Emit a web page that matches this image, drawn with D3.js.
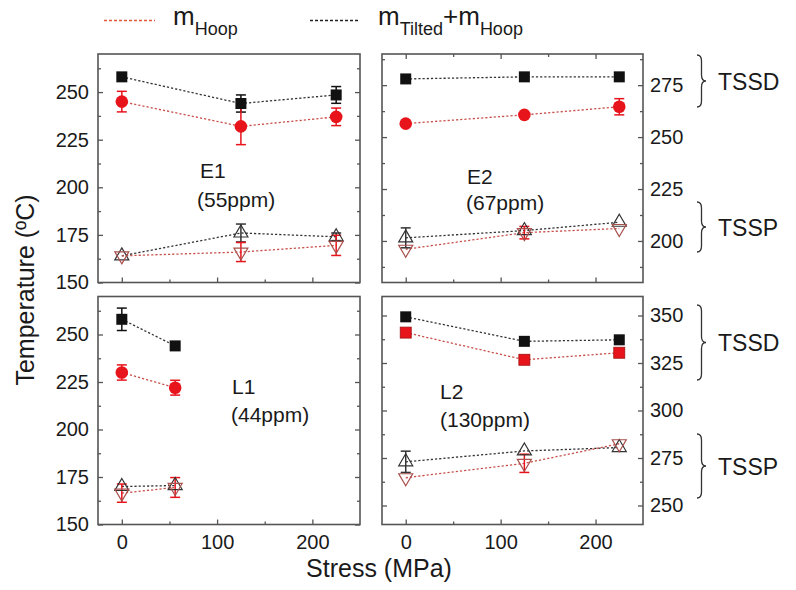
<!DOCTYPE html>
<html><head><meta charset="utf-8">
<script src="https://cdn.jsdelivr.net/npm/d3@7"></script>
<style>
body{margin:0;background:#fff}
svg{display:block}
text{font-family:"Liberation Sans",Arial,Helvetica,sans-serif;fill:#1a1a1a}
</style>
</head><body>
<svg id="chart" width="796" height="590"></svg>
<script>
// ---------------- data ----------------
const stressE = [0, 125, 225];          // MPa, E1/E2/L2
const stressL1 = [0, 56];               // MPa, L1
const xTickLabels = [0, 100, 200];
const leftTickLabels = [150, 175, 200, 225, 250];
const e2RightTickLabels = [200, 225, 250, 275];
const l2RightTickLabels = [250, 275, 300, 325, 350];
const panelNames = ["E1", "E2", "L1", "L2"];
const panelPpm = ["(55ppm)", "(67ppm)", "(44ppm)", "(130ppm)"];
const legendLabels = ["Hoop", "Tilted", "Hoop"];
const groupLabels = ["TSSD", "TSSP", "TSSD", "TSSP"];

// E1
const e1TssdTotal = [258, 244, 248.5], e1TssdTotalErr = [0, 4.5, 4.4];
const e1TssdHoop  = [245, 232, 237],   e1TssdHoopErr  = [5.4, 9.6, 4.6];
const e1TsspTotal = [164, 176, 174],   e1TsspTotalErr = [0, 4.7, 2];
const e1TsspHoop  = [164, 166, 169.5], e1TsspHoopErr  = [0, 5, 5.3];
// E2
const e2TssdTotal = [278, 279, 279],       e2TssdTotalErr = [0, 0, 0];
const e2TssdHoop  = [256.5, 260.7, 264.6], e2TssdHoopErr  = [0, 0, 3.9];
const e2TsspTotal = [201.5, 205, 209],     e2TsspTotalErr = [4.8, 0, 0];
const e2TsspHoop  = [196, 204, 206],       e2TsspHoopErr  = [0, 3, 0];
// L1
const l1TssdTotal = [258, 244],    l1TssdTotalErr = [5.9, 0];
const l1TssdHoop  = [230, 222],    l1TssdHoopErr  = [4, 3.9];
const l1TsspTotal = [170, 170.5],  l1TsspTotalErr = [0, 0];
const l1TsspHoop  = [166.5, 169.5],l1TsspHoopErr  = [4.8, 5.2];
// L2
const l2TssdTotal = [349.3, 336.4, 337.2], l2TssdTotalErr = [0, 0, 0];
const l2TssdHoop  = [341, 326.7, 330.4],   l2TssdHoopErr  = [0, 0, 0];
const l2TsspTotal = [273, 278.7, 280.5],   l2TsspTotalErr = [5.6, 0, 0];
const l2TsspHoop  = [264.6, 272.2, 282.5], l2TsspHoopErr  = [0, 4.8, 0];

// ---------------- layout ----------------
const svg = d3.select("#chart");
const RED = "#e8141c", REDLINE = "#c8504a", TRI_RED = "#a8504c", BLACK = "#111", FRAME = "#555";

const panels = [
  {name: panelNames[0], ppm: panelPpm[0], xs: stressE, yDom: [150, 270], box: [98, 54, 360, 282.5],
   left: leftTickLabels, right: null, bottomLabels: false, topTicks: false, hoopShape: "circle",
   txt: [200, 178, 197, 207],
   s: [[e1TssdTotal, e1TssdTotalErr], [e1TssdHoop, e1TssdHoopErr], [e1TsspTotal, e1TsspTotalErr], [e1TsspHoop, e1TsspHoopErr]]},
  {name: panelNames[1], ppm: panelPpm[1], xs: stressE, yDom: [180, 290], box: [382, 54, 643, 282.5],
   left: null, right: e2RightTickLabels, bottomLabels: false, topTicks: true, hoopShape: "circle",
   txt: [467, 184, 466, 210],
   s: [[e2TssdTotal, e2TssdTotalErr], [e2TssdHoop, e2TssdHoopErr], [e2TsspTotal, e2TsspTotalErr], [e2TsspHoop, e2TsspHoopErr]]},
  {name: panelNames[2], ppm: panelPpm[2], xs: stressL1, yDom: [150, 270], box: [98, 296.5, 360, 524.5],
   left: leftTickLabels, right: null, bottomLabels: true, topTicks: false, hoopShape: "circle",
   txt: [232, 394, 231, 422],
   s: [[l1TssdTotal, l1TssdTotalErr], [l1TssdHoop, l1TssdHoopErr], [l1TsspTotal, l1TsspTotalErr], [l1TsspHoop, l1TsspHoopErr]]},
  {name: panelNames[3], ppm: panelPpm[3], xs: stressE, yDom: [240, 360], box: [382, 296.5, 643, 524.5],
   left: null, right: l2RightTickLabels, bottomLabels: true, topTicks: false, hoopShape: "square",
   txt: [440, 399, 440, 427],
   s: [[l2TssdTotal, l2TssdTotalErr], [l2TssdHoop, l2TssdHoopErr], [l2TsspTotal, l2TsspTotalErr], [l2TsspHoop, l2TsspHoopErr]]}
];

function triPath(up, w = 14, h = 12) {
  if (up) return `M0,${-2*h/3}L${w/2},${h/3}L${-w/2},${h/3}Z`;
  return `M0,${2*h/3}L${w/2},${-h/3}L${-w/2},${-h/3}Z`;
}

panels.forEach(p => {
  const [x0, y0, x1, y1] = p.box;
  const x = d3.scaleLinear().domain([-25, 250]).range([x0, x1]);
  const y = d3.scaleLinear().domain(p.yDom).range([y1, y0]);
  const g = svg.append("g");

  const yMajor = d3.range(Math.ceil(p.yDom[0] / 25) * 25, p.yDom[1] + 0.01, 25);
  const yMinor = d3.range(Math.ceil(p.yDom[0] / 12.5) * 12.5, p.yDom[1] + 0.01, 12.5).filter(v => v % 25 !== 0);
  const xMajor = xTickLabels, xMinor = [50, 150];

  const styleAxis = sel => { sel.select(".domain").remove(); sel.selectAll("line").attr("stroke", FRAME).attr("stroke-width", 1.3); };

  // left
  g.append("g").attr("transform", `translate(${x0},0)`)
    .call(d3.axisLeft(y).tickValues(p.left || yMajor).tickSize(-5).tickPadding(9).tickFormat(p.left ? d3.format("d") : ""))
    .call(styleAxis).selectAll("text").attr("font-size", 20).attr("fill", "#1a1a1a").style("font-family", null);
  g.append("g").attr("transform", `translate(${x0},0)`)
    .call(d3.axisLeft(y).tickValues(yMinor).tickSize(-3).tickFormat("")).call(styleAxis);
  // right
  g.append("g").attr("transform", `translate(${x1},0)`)
    .call(d3.axisRight(y).tickValues(p.right || yMajor).tickSize(-5).tickPadding(7).tickFormat(p.right ? d3.format("d") : ""))
    .call(styleAxis).selectAll("text").attr("font-size", 20).attr("fill", "#1a1a1a").style("font-family", null);
  g.append("g").attr("transform", `translate(${x1},0)`)
    .call(d3.axisRight(y).tickValues(yMinor).tickSize(-3).tickFormat("")).call(styleAxis);
  // bottom
  g.append("g").attr("transform", `translate(0,${y1})`)
    .call(d3.axisBottom(x).tickValues(xMajor).tickSize(-5).tickPadding(10).tickFormat(p.bottomLabels ? d3.format("d") : ""))
    .call(styleAxis).selectAll("text").attr("font-size", 20).attr("fill", "#1a1a1a").style("font-family", null);
  g.append("g").attr("transform", `translate(0,${y1})`)
    .call(d3.axisBottom(x).tickValues(xMinor).tickSize(-3).tickFormat("")).call(styleAxis);
  if (p.topTicks) {
    g.append("g").attr("transform", `translate(0,${y0})`)
      .call(d3.axisTop(x).tickValues(xMajor).tickSize(-5).tickFormat("")).call(styleAxis);
    g.append("g").attr("transform", `translate(0,${y0})`)
      .call(d3.axisTop(x).tickValues(xMinor).tickSize(-3).tickFormat("")).call(styleAxis);
  }
  // frame
  g.append("rect").attr("x", x0).attr("y", y0).attr("width", x1 - x0).attr("height", y1 - y0)
    .attr("fill", "none").attr("stroke", FRAME).attr("stroke-width", 1.6);

  // panel labels
  g.append("text").attr("x", p.txt[0]).attr("y", p.txt[1]).attr("font-size", 21).text(p.name);
  g.append("text").attr("x", p.txt[2]).attr("y", p.txt[3]).attr("font-size", 21).text(p.ppm);

  const seriesStyle = [
    {line: "#333", err: BLACK, mark: "sq"},
    {line: REDLINE, err: RED, mark: p.hoopShape === "circle" ? "circ" : "sqr"},
    {line: "#333", err: "#333", mark: "up"},
    {line: REDLINE, err: RED, mark: "down"}
  ];
  const line = d3.line().x(d => x(d.x)).y(d => y(d.y));
  const all = p.s.map((s, i) => s[0].map((v, j) => ({x: p.xs[j], y: v, e: s[1][j], st: seriesStyle[i]})));

  // lines
  all.forEach((pts, i) => {
    g.append("path").datum(pts).attr("d", line).attr("fill", "none")
      .attr("stroke", seriesStyle[i].line).attr("stroke-width", 1.3).attr("stroke-dasharray", "2.2,2");
  });
  // error bars
  all.forEach(pts => pts.filter(d => d.e > 0).forEach(d => {
    const eg = g.append("g").attr("stroke", d.st.err).attr("stroke-width", 1.5);
    const cx = x(d.x), ya = y(d.y + d.e), yb = y(d.y - d.e);
    eg.append("line").attr("x1", cx).attr("x2", cx).attr("y1", ya).attr("y2", yb);
    eg.append("line").attr("x1", cx - 5).attr("x2", cx + 5).attr("y1", ya).attr("y2", ya);
    eg.append("line").attr("x1", cx - 5).attr("x2", cx + 5).attr("y1", yb).attr("y2", yb);
  }));
  // markers
  all.forEach(pts => pts.forEach(d => {
    const cx = x(d.x), cy = y(d.y);
    if (d.st.mark === "sq") {
      g.append("rect").attr("x", cx - 5.5).attr("y", cy - 5.5).attr("width", 11).attr("height", 11).attr("fill", BLACK);
    } else if (d.st.mark === "sqr") {
      g.append("rect").attr("x", cx - 5.5).attr("y", cy - 5.5).attr("width", 11).attr("height", 11)
        .attr("fill", RED).attr("stroke", "#a01010").attr("stroke-width", 0.8);
    } else if (d.st.mark === "circ") {
      g.append("circle").attr("cx", cx).attr("cy", cy).attr("r", 6.3).attr("fill", RED);
    } else if (d.st.mark === "up") {
      g.append("path").attr("d", triPath(true)).attr("transform", `translate(${cx},${cy})`)
        .attr("fill", "none").attr("stroke", "#333").attr("stroke-width", 1.2);
    } else {
      g.append("path").attr("d", triPath(false)).attr("transform", `translate(${cx},${cy})`)
        .attr("fill", "none").attr("stroke", TRI_RED).attr("stroke-width", 1.2);
    }
  }));
});

// axis titles
svg.append("text").attr("x", 379).attr("y", 577).attr("text-anchor", "middle").attr("font-size", 25).text("Stress (MPa)");
svg.append("text").attr("transform", "translate(34,290) rotate(-90)").attr("text-anchor", "middle")
  .attr("font-size", 25).text("Temperature (ºC)");

// legend
svg.append("line").attr("x1", 104).attr("x2", 155).attr("y1", 20.5).attr("y2", 20.5)
  .attr("stroke", "#e05a3a").attr("stroke-width", 1.5).attr("stroke-dasharray", "3,2");
svg.append("line").attr("x1", 310).attr("x2", 358).attr("y1", 20.5).attr("y2", 20.5)
  .attr("stroke", "#222").attr("stroke-width", 1.5).attr("stroke-dasharray", "3,2");
const lg1 = svg.append("text").attr("x", 173).attr("y", 25).attr("font-size", 26);
lg1.append("tspan").text("m");
lg1.append("tspan").attr("dy", 10).attr("font-size", 18).text(legendLabels[0]);
const lg2 = svg.append("text").attr("x", 378).attr("y", 25).attr("font-size", 26);
lg2.append("tspan").text("m");
lg2.append("tspan").attr("dy", 10).attr("font-size", 18).text(legendLabels[1]);
lg2.append("tspan").attr("dy", -10).text("+m");
lg2.append("tspan").attr("dy", 10).attr("font-size", 18).text(legendLabels[2]);

// braces + group labels
const braces = [[55, 107], [202, 252], [305, 380], [434, 498]];
function bracePath(xl, ya, yb, w = 9, r = 6) {
  const ym = (ya + yb) / 2, xm = xl + w / 2;
  return `M${xl},${ya}Q${xm},${ya} ${xm},${ya + r}L${xm},${ym - r}Q${xm},${ym} ${xl + w},${ym}` +
         `Q${xm},${ym} ${xm},${ym + r}L${xm},${yb - r}Q${xm},${yb} ${xl},${yb}`;
}
braces.forEach((b, i) => {
  svg.append("path").attr("d", bracePath(697, b[0], b[1])).attr("fill", "none").attr("stroke", "#333").attr("stroke-width", 1.3);
  svg.append("text").attr("x", 718).attr("y", (b[0] + b[1]) / 2 + 8.5).attr("font-size", 23).text(groupLabels[i]);
});
</script>
</body></html>
